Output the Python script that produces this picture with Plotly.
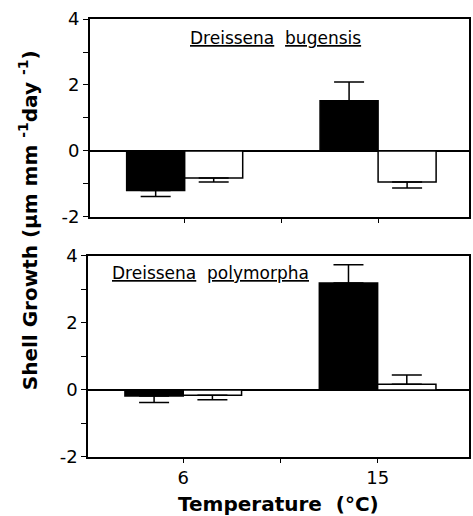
import plotly.graph_objects as go

temperatures = ["6", "15"]

bugensis_black = [-1.20, 1.52]
bugensis_black_err = [0.18, 0.57]
bugensis_white = [-0.82, -0.94]
bugensis_white_err = [0.12, 0.18]

polymorpha_black = [-0.18, 3.19]
polymorpha_black_err = [0.19, 0.55]
polymorpha_white = [-0.16, 0.17]
polymorpha_white_err = [0.13, 0.28]

y_tick_vals = [-2, -1, 0, 1, 2, 3, 4]
y_tick_text = ["-2", "", "0", "", "2", "", "4"]

WIDE = "DejaVu Sans, Verdana, sans-serif"
pos = [1, 3]


def err(vals, e):
    plus = [x if v >= 0 else 0 for v, x in zip(vals, e)]
    minus = [x if v < 0 else 0 for v, x in zip(vals, e)]
    return dict(type="data", symmetric=False, array=plus, arrayminus=minus,
                color="black", thickness=1.5, width=15)


def bars(vals, e, fill, offset, xa, ya, name):
    return go.Bar(x=pos, y=vals, width=0.6, offset=offset, name=name,
                  marker=dict(color=fill, line=dict(color="black", width=1.5)),
                  error_y=err(vals, e), xaxis=xa, yaxis=ya, showlegend=False,
                  hoverinfo="skip")


fig = go.Figure()
fig.add_trace(bars(bugensis_black, bugensis_black_err, "black", -0.6, "x", "y", "black"))
fig.add_trace(bars(bugensis_white, bugensis_white_err, "white", 0.0, "x", "y", "white"))
fig.add_trace(bars(polymorpha_black, polymorpha_black_err, "black", -0.6, "x2", "y2", "black"))
fig.add_trace(bars(polymorpha_white, polymorpha_white_err, "white", 0.0, "x2", "y2", "white"))

xcommon = dict(range=[0.02, 3.94], tickvals=[1, 2, 3], showline=True, mirror=True,
               linecolor="black", linewidth=1.5, ticks="outside", ticklen=4,
               tickcolor="black", showgrid=False, zeroline=False,
               tickfont=dict(family=WIDE, size=18, color="black"))
ycommon = dict(range=[-2, 4], tickvals=y_tick_vals, ticktext=y_tick_text,
               showline=True, mirror=True, linecolor="black", linewidth=1.5,
               ticks="outside", ticklen=5, tickcolor="black", showgrid=False,
               zeroline=True, zerolinecolor="black", zerolinewidth=1.5,
               tickfont=dict(family=WIDE, size=18, color="black"))

fig.update_layout(
    width=473, height=516,
    margin=dict(l=88, r=2, t=19, b=59),
    plot_bgcolor="white", paper_bgcolor="white",
    barmode="overlay",
    xaxis=dict(xcommon, domain=[0.005, 1], anchor="y", ticktext=["", "", ""]),
    yaxis=dict(ycommon, domain=[0.548, 1.0], anchor="x"),
    xaxis2=dict(xcommon, domain=[0.0, 1], anchor="y2",
                ticktext=[temperatures[0], "", temperatures[1]]),
    yaxis2=dict(ycommon, domain=[0.0, 0.459], anchor="x2"),
    annotations=[
        dict(text="<u>Dreissena</u>  <u>bugensis</u>", xref="x", yref="y", x=1.934, y=3.42,
             showarrow=False, font=dict(family=WIDE, size=17, color="black")),
        dict(text="<u>Dreissena</u>  <u>polymorpha</u>", xref="x2", yref="y2", x=1.279, y=3.49,
             showarrow=False, font=dict(family=WIDE, size=17, color="black")),
        dict(text="<b>Temperature  (°C)</b>", xref="paper", yref="paper", x=0.501, y=-0.108,
             xanchor="center", yanchor="middle", showarrow=False,
             font=dict(family=WIDE, size=20, color="black")),
        dict(text="<b>Shell Growth (μm mm <sup>-1</sup>day <sup>-1</sup>)</b>", xref="paper",
             yref="paper", x=-0.157, y=0.541, xanchor="center", yanchor="middle",
             textangle=-90, showarrow=False,
             font=dict(family=WIDE, size=20, color="black")),
    ],
)

fig.write_html("out.html", config={"displayModeBar": False},
               post_script="document.body.style.margin='0px';")
